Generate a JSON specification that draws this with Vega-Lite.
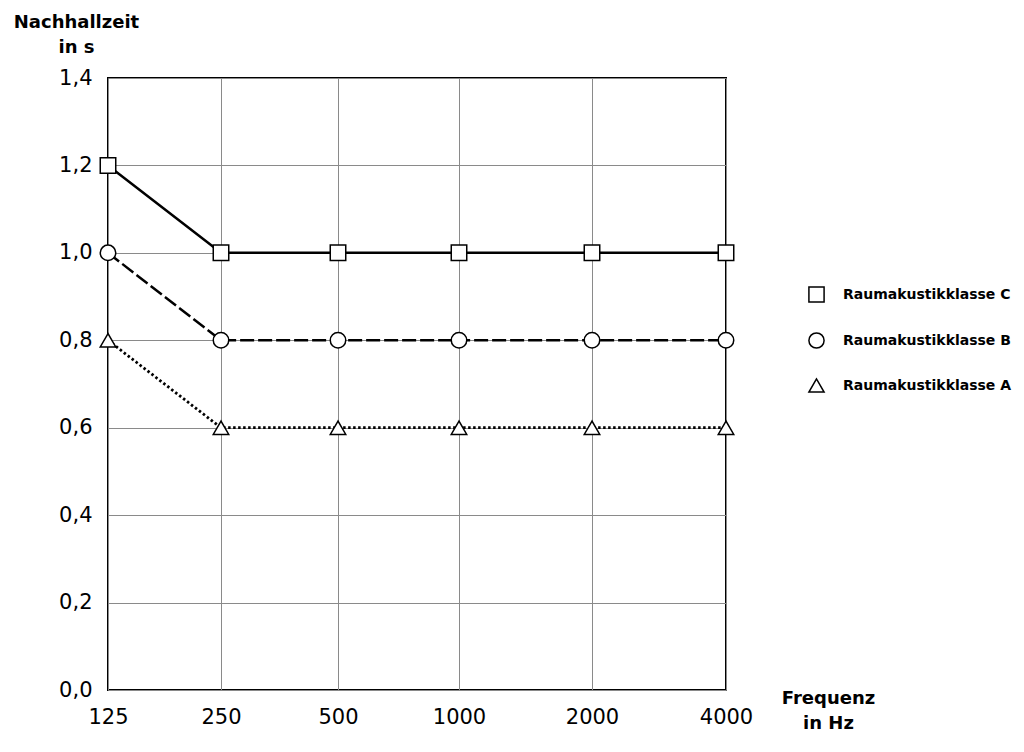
{
  "$schema": "https://vega.github.io/schema/vega-lite/v6.json",
  "width": 618,
  "height": 612,
  "autosize": {"type": "none"},
  "padding": {"left": 108, "top": 78, "right": 298, "bottom": 62},
  "background": "white",
  "data": {
    "values": [
      {"klasse": "Raumakustikklasse C", "freq": 125, "t": 1.2},
      {"klasse": "Raumakustikklasse C", "freq": 250, "t": 1.0},
      {"klasse": "Raumakustikklasse C", "freq": 500, "t": 1.0},
      {"klasse": "Raumakustikklasse C", "freq": 1000, "t": 1.0},
      {"klasse": "Raumakustikklasse C", "freq": 2000, "t": 1.0},
      {"klasse": "Raumakustikklasse C", "freq": 4000, "t": 1.0},
      {"klasse": "Raumakustikklasse B", "freq": 125, "t": 1.0},
      {"klasse": "Raumakustikklasse B", "freq": 250, "t": 0.8},
      {"klasse": "Raumakustikklasse B", "freq": 500, "t": 0.8},
      {"klasse": "Raumakustikklasse B", "freq": 1000, "t": 0.8},
      {"klasse": "Raumakustikklasse B", "freq": 2000, "t": 0.8},
      {"klasse": "Raumakustikklasse B", "freq": 4000, "t": 0.8},
      {"klasse": "Raumakustikklasse A", "freq": 125, "t": 0.8},
      {"klasse": "Raumakustikklasse A", "freq": 250, "t": 0.6},
      {"klasse": "Raumakustikklasse A", "freq": 500, "t": 0.6},
      {"klasse": "Raumakustikklasse A", "freq": 1000, "t": 0.6},
      {"klasse": "Raumakustikklasse A", "freq": 2000, "t": 0.6},
      {"klasse": "Raumakustikklasse A", "freq": 4000, "t": 0.6}
    ]
  },
  "encoding": {
    "x": {
      "field": "freq",
      "type": "quantitative",
      "scale": {
        "domain": [125, 250, 500, 1000, 2000, 4000],
        "range": [0, 113, 230, 351, 484, 618]
      },
      "axis": {
        "values": [125, 250, 500, 1000, 2000, 4000],
        "format": "d",
        "labelFlush": false,
        "title": ["Frequenz", "in Hz"],
        "titleX": 720,
        "titleY": -1,
        "titleAlign": "center",
        "titleBaseline": "top",
        "titleLineHeight": 25,
        "labelPadding": 16
      }
    },
    "y": {
      "field": "t",
      "type": "quantitative",
      "scale": {"domain": [0, 1.4], "nice": false},
      "axis": {
        "values": [0, 0.2, 0.4, 0.6, 0.8, 1.0, 1.2, 1.4],
        "labelExpr": "replace(format(datum.value, '.1f'), '.', ',')",
        "labelFlush": false,
        "title": ["Nachhallzeit", "in s"],
        "titleAngle": 0,
        "titleX": -32,
        "titleY": -65,
        "titleAlign": "center",
        "titleBaseline": "top",
        "titleLineHeight": 25,
        "labelPadding": 16
      }
    }
  },
  "layer": [
    {
      "transform": [{"filter": "datum.klasse === 'Raumakustikklasse C'"}],
      "mark": {"type": "line", "color": "black", "strokeWidth": 2.5}
    },
    {
      "transform": [{"filter": "datum.klasse === 'Raumakustikklasse B'"}],
      "mark": {"type": "line", "color": "black", "strokeWidth": 2.5, "strokeDash": [14, 4]}
    },
    {
      "transform": [{"filter": "datum.klasse === 'Raumakustikklasse A'"}],
      "mark": {"type": "line", "color": "black", "strokeWidth": 2.8, "strokeDash": [2.5, 2.5]}
    },
    {
      "mark": {"type": "point", "filled": true, "fill": "white", "stroke": "black", "strokeWidth": 1.5, "size": 240, "opacity": 1},
      "encoding": {
        "shape": {
          "field": "klasse",
          "type": "nominal",
          "scale": {
            "domain": ["Raumakustikklasse C", "Raumakustikklasse B", "Raumakustikklasse A"],
            "range": ["square", "circle", "triangle-up"]
          },
          "legend": {
            "title": null,
            "orient": "none",
            "legendX": 700,
            "legendY": 208,
            "padding": 0,
            "rowPadding": 23,
            "labelOffset": 18,
            "symbolSize": 230,
            "labelFont": "DejaVu Sans",
            "labelFontWeight": "bold",
            "labelFontSize": 14,
            "labelColor": "black",
            "labelLimit": 300,
            "encode": {
              "symbols": {
                "update": {
                  "fill": {"value": "white"},
                  "stroke": {"value": "black"},
                  "strokeWidth": {"value": 1.5},
                  "opacity": {"value": 1},
                  "fillOpacity": {"value": 1},
                  "strokeOpacity": {"value": 1}
                }
              }
            }
          }
        }
      }
    }
  ],
  "config": {
    "font": "DejaVu Sans",
    "view": {"stroke": "black", "strokeWidth": 2},
    "axis": {
      "domain": false,
      "ticks": false,
      "grid": true,
      "gridColor": "#8a8a8a",
      "gridWidth": 1,
      "gridOpacity": 1,
      "labelFont": "DejaVu Sans",
      "labelFontSize": 21,
      "labelColor": "black",
      "titleFont": "DejaVu Sans",
      "titleFontSize": 18,
      "titleFontWeight": "bold",
      "titleColor": "black"
    }
  }
}
